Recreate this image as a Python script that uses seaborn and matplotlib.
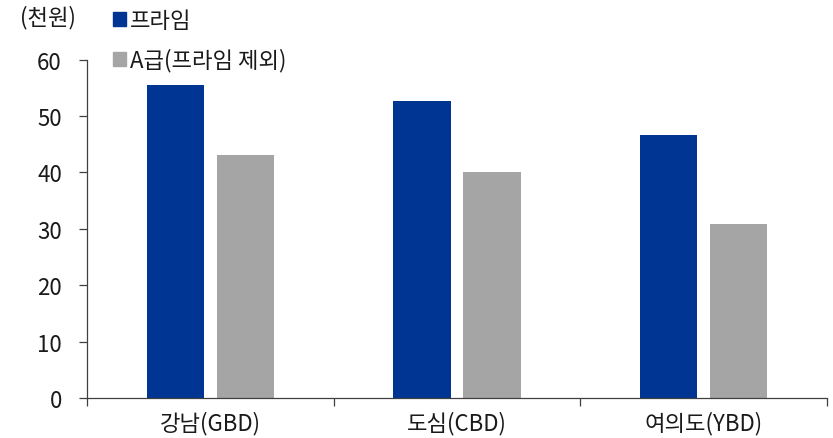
import matplotlib
matplotlib.use("Agg")
import matplotlib.pyplot as plt
import seaborn as sns
import pandas as pd
from matplotlib.ticker import FixedLocator

regions = ["강남(GBD)", "도심(CBD)", "여의도(YBD)"]
series_names = ["프라임", "A급(프라임 제외)"]
prime_rent = [55.6, 52.6, 46.6]
grade_a_rent = [43.1, 40.1, 30.9]
y_ticks = [0, 10, 20, 30, 40, 50, 60]
unit_label = "(천원)"

colors = ["#003594", "#A5A5A5"]
FS = 16

df = pd.DataFrame({
    "region": regions * 2,
    "series": [series_names[0]] * 3 + [series_names[1]] * 3,
    "rent": prime_rent + grade_a_rent,
})

sns.set_theme(style="white")
plt.rcParams["font.family"] = ["Noto Sans CJK KR", "DejaVu Sans"]

fig = plt.figure(figsize=(8.33, 4.39), dpi=100)
ax = fig.add_axes([87 / 833, 1 - 399 / 439, (827 - 87) / 833, (399 - 60.7) / 439])

sns.barplot(data=df, x="region", y="rent", hue="series", order=regions,
            hue_order=series_names, palette=colors, width=0.568, gap=0.178,
            saturation=1, ax=ax, legend=False, linewidth=0)

ax.set_xlim(-0.5, 2.5)
ax.set_ylim(0, 60)
ax.set_yticks(y_ticks)
ax.set_xlabel("")
ax.set_ylabel("")

for s in ["top", "right"]:
    ax.spines[s].set_visible(False)
for s in ["left", "bottom"]:
    ax.spines[s].set_color("#404040")
    ax.spines[s].set_linewidth(0.9)

ax.tick_params(axis="y", which="major", length=6, width=0.9, color="#404040",
               direction="out", pad=12, labelsize=FS, labelcolor="#1a1a1a", left=True)
ax.tick_params(axis="x", which="major", length=0, pad=9, labelsize=FS,
               labelcolor="#1a1a1a")
ax.xaxis.set_minor_locator(FixedLocator([-0.5, 0.5, 1.5, 2.5]))
ax.tick_params(axis="x", which="minor", length=6, width=0.9, color="#404040",
               direction="out", bottom=True)

fig.text(20 / 833, 1 - 18 / 439, unit_label, fontsize=FS, color="#1a1a1a",
         va="center", ha="left")

handles = [plt.Rectangle((0, 0), 1, 1, color=c) for c in colors]
fig.legend(handles, series_names, loc="upper left",
           bbox_to_anchor=(97 / 833, 1 + 6 / 439), frameon=False,
           fontsize=FS, handlelength=0.6, handleheight=0.6,
           handletextpad=0.2, labelspacing=0.73, borderpad=0.2,
           labelcolor="#1a1a1a")

fig.savefig("out.png", dpi=100)
